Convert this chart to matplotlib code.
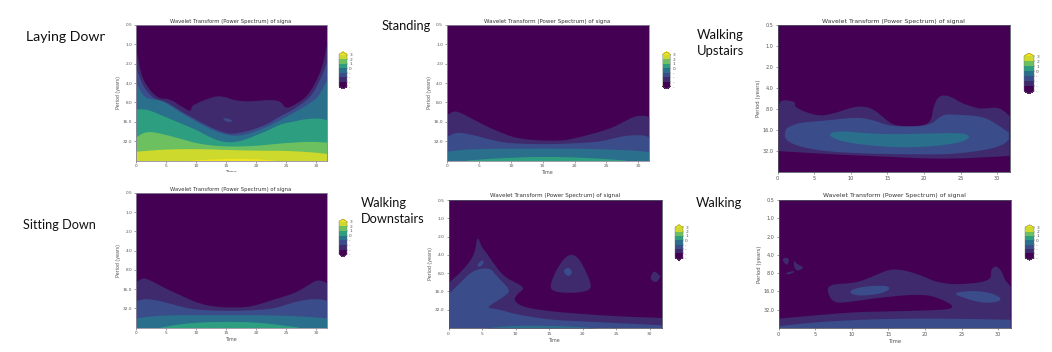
import numpy as np
import matplotlib
matplotlib.use("Agg")
import matplotlib.pyplot as plt
from matplotlib.colors import ListedColormap, BoundaryNorm
from matplotlib.cm import ScalarMappable
from matplotlib.transforms import Bbox

TITLE = "Wavelet Transform (Power Spectrum) of signal"
PERIOD_TICKS = [0.5, 1, 2, 4, 8, 16, 32]
TIME_TICKS = [0, 5, 10, 15, 20, 25, 30]
BAR_LEVELS = [-4, -3, -2, -1, 0, 1, 2, 3]
BAR_LABELS = ["-", "-", "-", "-", "0", "1", "2", "3"]
BAND_COLORS = ["#440154", "#3f2a6e", "#3a4c8a", "#2a6f8b", "#2e9e80", "#6cc060", "#cdd92c", "#f2e41f"]

# Each region: (level, times, log2 period of its upper edge); it fills down to the axis bottom.
LAYING_T1 = [0, .5, 1, 2, 3, 4, 5, 6, 7, 8, 9, 9.2, 10, 12, 13.5, 15, 16, 18, 20, 22, 24, 24.7, 26, 28, 29, 30, 31, 31.7]
LAYING_K1 = [.26, 1.12, 1.72, 2.24, 2.59, 2.79, 2.78, 2.88, 3.09, 3.28, 3.45, 3.16, 3.02, 2.76, 2.64, 2.71, 2.84, 2.93, 2.9, 2.84, 2.9, 3.29, 3.16, 2.76, 2.36, 1.81, 1.03, -.09]
LAYING_T2 = [0, 1, 2, 3, 4, 5, 7, 9, 11, 13, 15, 16, 18, 20, 22, 24, 26, 28, 29, 30, 31, 31.7]
LAYING_K2 = [1.21, 2.07, 2.5, 2.79, 2.88, 2.95, 3.36, 3.71, 4.05, 4.36, 4.57, 4.6, 4.5, 4.31, 4.05, 3.67, 3.36, 2.93, 2.64, 2.16, 1.47, .86]
LAYING_T3 = [0, 1, 2, 4, 6, 8, 10, 12, 14, 16, 18, 20, 22, 24, 26, 28, 30, 31, 31.7]
LAYING_K3 = [1.98, 2.59, 2.81, 2.84, 3.22, 3.62, 3.97, 4.31, 4.57, 4.71, 4.66, 4.45, 4.19, 3.88, 3.53, 3.19, 2.76, 2.24, 1.81]
LAYING_T4 = [0, 1, 2, 4, 6, 8, 10, 12, 14, 16, 18, 20, 22, 24, 26, 28, 30, 31.7]
LAYING_K4 = [3.33, 3.33, 3.36, 3.62, 3.88, 4.14, 4.4, 4.74, 5.0, 5.05, 4.91, 4.66, 4.4, 4.09, 3.97, 3.84, 3.79, 3.88]
LAYING_T5 = [0, 1, 2, 3, 5, 8, 10, 13, 16, 20, 23, 26, 29, 31.7]
LAYING_K5 = [4.78, 4.57, 4.5, 4.52, 4.66, 4.91, 5.09, 5.22, 5.26, 5.22, 5.12, 5.05, 5.0, 5.05]
LAYING_T6 = [0, 2, 5, 10, 15, 20, 25, 30, 31.7]
LAYING_K6 = [5.52, 5.47, 5.4, 5.38, 5.43, 5.47, 5.47, 5.57, 5.64]
LAYING_T7 = [9, 12, 16, 20, 23]
LAYING_K7 = [5.98, 5.93, 5.88, 5.91, 5.98]
LAYING_ISLE_T = [14.3, 15.2, 16.2, 15.2]
LAYING_ISLE_K = [3.85, 3.8, 3.97, 4.02]

STAND_T1 = [0, 1, 2, 4, 6, 8, 10, 12, 15, 18, 20, 22, 24, 26, 28, 29.5, 31, 31.7]
STAND_K1 = [3.62, 3.41, 3.5, 3.84, 4.19, 4.48, 4.74, 4.88, 4.95, 4.95, 4.83, 4.66, 4.48, 4.26, 3.91, 3.67, 3.66, 3.74]
STAND_T2 = [0, 1, 2, 4, 6, 8, 10, 15, 20, 24, 26, 28, 30, 31, 31.7]
STAND_K2 = [4.74, 4.57, 4.53, 4.66, 4.83, 5.0, 5.09, 5.14, 5.09, 5.0, 4.83, 4.69, 4.66, 4.69, 4.78]
STAND_T3 = [0, 2, 5, 10, 15, 20, 25, 30, 31.7]
STAND_K3 = [5.52, 5.43, 5.38, 5.36, 5.36, 5.36, 5.4, 5.47, 5.55]
STAND_T4 = [3, 6, 10, 15, 20, 25, 28]
STAND_K4 = [5.98, 5.9, 5.83, 5.78, 5.81, 5.9, 5.98]

SIT_T1 = [0, 1, 1.5, 3, 5, 7, 9, 11, 13, 15, 18, 20, 22, 25, 27, 29, 30, 31, 31.7]
SIT_K1 = [3.59, 3.42, 3.42, 3.63, 3.97, 4.25, 4.55, 4.77, 4.89, 4.93, 4.93, 4.81, 4.6, 4.32, 4.08, 3.68, 3.51, 3.56, 3.68]
SIT_T2 = [0, 1, 2, 4, 6, 8, 10, 15, 20, 23, 25, 27, 29, 31, 31.7]
SIT_K2 = [4.6, 4.51, 4.49, 4.6, 4.77, 4.94, 5.05, 5.12, 5.07, 4.98, 4.77, 4.6, 4.49, 4.51, 4.6]
SIT_T3 = [0, 2, 5, 10, 15, 20, 25, 30, 31.7]
SIT_K3 = [5.5, 5.41, 5.34, 5.33, 5.33, 5.33, 5.36, 5.45, 5.5]
SIT_T4 = [4, 7, 10, 15, 20, 24, 27]
SIT_K4 = [5.98, 5.81, 5.72, 5.67, 5.71, 5.85, 5.98]

UP_T1 = [0, .3, 1, 2, 2.5, 2.3, 4, 6, 8, 10, 11.5, 13, 14, 15, 16, 18, 20, 21, 21.3, 22, 23, 24, 25, 27, 28, 30, 31, 31.7, 31.7, 30, 25, 20, 15, 10, 5, 0]
UP_K1 = [3.1, 2.62, 2.58, 2.62, 2.73, 2.89, 3.18, 3.34, 3.18, 2.94, 2.86, 2.99, 3.26, 3.57, 3.78, 3.83, 3.78, 3.57, 2.86, 2.39, 2.34, 2.47, 2.7, 2.94, 2.99, 2.91, 3.1, 3.34, 5.23, 5.27, 5.36, 5.36, 5.27, 5.2, 5.11, 5.0]
UP_T2 = [1, 1.2, 3, 6, 11, 13.5, 15, 17, 20.8, 22.5, 24, 28, 30, 31.6, 31.6, 31, 29, 24, 17.6, 11, 6, 2.6, 1]
UP_K2 = [4.13, 3.89, 3.65, 3.57, 3.38, 3.57, 3.78, 3.84, 3.81, 3.26, 3.26, 3.34, 3.73, 4.13, 4.44, 4.68, 4.92, 5.16, 5.16, 5.11, 5.0, 4.76, 4.44]
UP_T3 = [7.15, 9, 11, 15.3, 20, 25.3, 26.4, 25.3, 22, 17.6, 13, 9, 7.15]
UP_K3 = [4.13, 4.05, 4.13, 4.21, 4.17, 4.13, 4.32, 4.57, 4.76, 4.84, 4.76, 4.57, 4.32]

DOWN_T1 = [0, 2.2, 3.9, 4.3, 4.9, 5.7, 6.7, 8.2, 10.2, 11.4, 10.2, 9.7, 11.2, 15.1, 20.1, 25.1, 31.8, 31.8, 0]
DOWN_K1 = [3.55, 2.82, 2.0, .91, 1.55, 1.91, 2.45, 3.18, 3.55, 3.82, 4.15, 4.51, 4.87, 5.09, 5.24, 5.36, 5.45, 6, 6]
DOWN_T2 = [0, 1.7, 3.7, 6.2, 7.2, 9.2, 8.7, 6.7, 5.7, 7.2, 10.2, 15.1, 20.1, 25.1, 31.8, 31.8, 0]
DOWN_K2 = [4.15, 3.55, 2.82, 2.69, 3.18, 3.91, 4.18, 4.64, 4.91, 4.95, 5.27, 5.55, 5.64, 5.73, 5.85, 6, 6]
DOWN_T3 = [5.2, 9.2, 15.1, 20.1, 22.1]
DOWN_K3 = [6, 5.85, 5.85, 5.93, 6]
DOWN_ISLE_T = [4.2, 4.9, 5.4, 4.7]
DOWN_ISLE_K = [2.58, 2.27, 2.4, 2.69]
DOWN_BLOB_T = [15.1, 15.9, 17.6, 19.1, 20.4, 21.5, 20.1, 17.6, 15.6]
DOWN_BLOB_K = [3.73, 2.91, 2.0, 2.0, 2.82, 3.82, 4.04, 4.09, 4.0]
DOWN_CORE_T = [17.1, 17.9, 18.5, 18.1, 17.4]
DOWN_CORE_K = [2.82, 2.67, 2.91, 3.18, 3.09]
DOWN_RIGHT_T = [30.2, 30.7, 31.6, 31, 30.1]
DOWN_RIGHT_K = [3.09, 2.85, 3.18, 3.55, 3.36]

WALK_T1 = [0, 6.1, 10.6, 15.2, 19.7, 24.7, 21.5, 18.8, 13.4, 9.7, 7.5, 6.6, 7, 10.6, 13.4, 15.2, 17, 19.3, 21.5, 24.3, 29, 29, 29.6, 30.4, 30.9, 31.7, 31.7, 0]
WALK_K1 = [5.49, 5.27, 5.13, 5.09, 5.05, 4.95, 4.27, 4.15, 4.36, 4.58, 4.64, 4.0, 3.6, 3.55, 3.09, 2.78, 2.82, 3.09, 3.49, 3.64, 3.45, 2.82, 2.58, 2.82, 3.36, 3.73, 6, 6]
WALK_T2 = [0, 3.8, 8.4, 15.2, 24.3, 31.7, 31.7, 0]
WALK_K2 = [5.91, 5.73, 5.6, 5.49, 5.49, 5.55, 6, 6]
WALK_A_T = [9.6, 11.5, 14.3, 15.3, 14.7, 12.5, 10.2]
WALK_A_K = [3.96, 3.73, 3.67, 3.78, 4.04, 4.22, 4.22]
WALK_B_T = [23.7, 26.1, 28.8, 30.5, 30, 27.9, 25.6]
WALK_B_K = [4.09, 3.96, 4.04, 4.36, 4.58, 4.64, 4.4]
WALK_C_T = [.4, 1.5, 1.3, .9]
WALK_C_K = [2.18, 2.15, 2.55, 2.51]
WALK_D_T = [2.1, 2.5, 3.6, 2.5, 2.1]
WALK_D_K = [2.27, 2.51, 2.69, 2.91, 2.64]
WALK_E_T = [.9, 2, 2.2, 1.3]
WALK_E_K = [3, 2.87, 2.95, 3.09]


def under(t, k, level):
    return ("under", t, k, level)


def poly(t, k, level):
    return ("poly", t, k, level)


def round_open(t, k, rounds=3):
    """Corner cutting along an open edge; the two ends stay where they were read."""
    p = np.column_stack([t, k]).astype(float)
    for _ in range(rounds):
        q = 0.75 * p[:-1] + 0.25 * p[1:]
        r = 0.25 * p[:-1] + 0.75 * p[1:]
        mid = np.empty((2 * len(q), 2))
        mid[0::2], mid[1::2] = q, r
        p = np.vstack([p[:1], mid, p[-1:]])
    return p[:, 0], p[:, 1]


def round_closed(t, k, rounds=3):
    """Corner cutting round a closed outline; vertices on an axis edge stay sharp."""
    t, k = np.asarray(t, float), np.asarray(k, float)
    keep = (t <= 0) | (t >= 31.6) | (k >= 6)
    p = np.repeat(np.column_stack([t, k]), np.where(keep, 2, 1), axis=0)
    for _ in range(rounds):
        nxt = np.roll(p, -1, axis=0)
        q = 0.75 * p + 0.25 * nxt
        r = 0.25 * p + 0.75 * nxt
        new = np.empty((2 * len(p), 2))
        new[0::2], new[1::2] = q, r
        p = new
    return p[:, 0], p[:, 1]


PANELS = [
    dict(rect=(136, 25, 327, 160.5), tick=3.1, label=3.45, title=3.8, cut=True, xlabel=True, clip_bottom=172,
         bar=(339, 49, 347, 92), regions=[under(LAYING_T1, LAYING_K1, 1), under(LAYING_T2, LAYING_K2, 2),
                  under(LAYING_T3, LAYING_K3, 3), under(LAYING_T4, LAYING_K4, 4), under(LAYING_T5, LAYING_K5, 5),
                  under(LAYING_T6, LAYING_K6, 6), under(LAYING_T7, LAYING_K7, 7),
                  poly(LAYING_ISLE_T, LAYING_ISLE_K, 2)]),
    dict(rect=(447, 25, 649.5, 160.5), tick=3.2, label=3.45, title=3.95, cut=True, xlabel=True, clip_bottom=352,
         bar=(662.5, 49, 670.5, 92), regions=[under(STAND_T1, STAND_K1, 1), under(STAND_T2, STAND_K2, 2),
                  under(STAND_T3, STAND_K3, 3), under(STAND_T4, STAND_K4, 4)]),
    dict(rect=(777.5, 25, 1010, 172), tick=3.5, label=3.9, title=4.46, cut=False, xlabel=False, clip_bottom=180,
         bar=(1024, 50, 1034, 97), regions=[poly(UP_T1, UP_K1, 1), poly(UP_T2, UP_K2, 2), poly(UP_T3, UP_K3, 3)]),
    dict(rect=(136, 193, 327, 327.5), tick=3.1, label=3.45, title=3.8, cut=True, xlabel=True, clip_bottom=352,
         bar=(339, 216, 347, 260), regions=[under(SIT_T1, SIT_K1, 1), under(SIT_T2, SIT_K2, 2),
                  under(SIT_T3, SIT_K3, 3), under(SIT_T4, SIT_K4, 4)]),
    dict(rect=(448.5, 200, 661.5, 328), tick=3.2, label=3.45, title=4.06, cut=False, xlabel=True, clip_bottom=352,
         bar=(675, 222, 683, 263), regions=[poly(DOWN_T1, DOWN_K1, 1), poly(DOWN_T2, DOWN_K2, 2),
                  under(DOWN_T3, DOWN_K3, 3), poly(DOWN_ISLE_T, DOWN_ISLE_K, 2), poly(DOWN_BLOB_T, DOWN_BLOB_K, 1),
                  poly(DOWN_CORE_T, DOWN_CORE_K, 2), poly(DOWN_RIGHT_T, DOWN_RIGHT_K, 1)]),
    dict(rect=(778.5, 200, 1011, 328), tick=3.5, label=3.9, title=4.46, cut=False, xlabel=True, clip_bottom=352,
         bar=(1025, 222, 1034, 263), regions=[poly(WALK_T1, WALK_K1, 1), poly(WALK_T2, WALK_K2, 2),
                  poly(WALK_A_T, WALK_A_K, 2), poly(WALK_B_T, WALK_B_K, 2), poly(WALK_C_T, WALK_C_K, 1),
                  poly(WALK_D_T, WALK_D_K, 1), poly(WALK_E_T, WALK_E_K, 1)]),
]

ACTIVITY_LABELS = [
    ("Laying Down", 26, 37, 105, 10.2),
    ("Standing", 382, 26, 440, 9.3),
    ("Walking\nUpstairs", 697, 43, 760, 9.4),
    ("Sitting Down", 23, 225, 110, 9.1),
    ("Walking\nDownstairs", 361, 211, 430, 9.2),
    ("Walking", 696, 203, 760, 9.3),
]

W, H = 1052, 352
fig = plt.figure(figsize=(W / 100, H / 100), dpi=100, facecolor="white")
GRAY = "#555555"


def axes_at(x0, y0, x1, y1):
    return fig.add_axes([x0 / W, 1 - y1 / H, (x1 - x0) / W, (y1 - y0) / H])


def clipbox(x0, y0, x1, y1):
    return Bbox([[x0, H - y1], [x1, H - y0]])


for p in PANELS:
    x0, y0, x1, y1 = p["rect"]
    ax = axes_at(x0, y0, x1, y1)
    ax.set_facecolor(BAND_COLORS[0])
    ax.set_xlim(0, 31.75)
    ax.set_yscale("log", base=2)
    ax.set_ylim(2.0 ** 6, 0.5)
    ax.set_yticks(PERIOD_TICKS)
    ax.set_yticklabels([f"{v:.1f}" for v in PERIOD_TICKS])
    ax.minorticks_off()
    ax.set_xticks(TIME_TICKS)
    ax.tick_params(labelsize=p["tick"], length=1.6, width=0.4, color=GRAY, labelcolor=GRAY, pad=1.2)
    for sp in ax.spines.values():
        sp.set_linewidth(0.6)
        sp.set_color("#8f8a9c" if p["cut"] else "#555566")
    ax.set_ylabel("Period (years)", fontsize=p["label"], color=GRAY, labelpad=1.2)
    bottom_box = clipbox(0, 0, W, p["clip_bottom"])
    if p["xlabel"]:
        lab = ax.set_xlabel("Time", fontsize=p["label"], color=GRAY, labelpad=1.2)
        lab.set_clip_box(bottom_box)
        lab.set_clip_on(True)
    for lab in ax.get_xticklabels():
        lab.set_clip_box(bottom_box)
        lab.set_clip_on(True)
    for kind, t, k, level in p["regions"]:
        if kind == "under":
            rt, rk = round_open(t, k)
            ax.fill_between(rt, 2.0 ** rk, 2.0 ** 6, color=BAND_COLORS[level], lw=0)
        else:
            rt, rk = round_closed(t, k)
            ax.fill(rt, 2.0 ** rk, color=BAND_COLORS[level], lw=0)
    title = ax.set_title(TITLE, fontsize=p["title"], color="#333333", pad=1.8)
    if p["cut"]:
        title.set_clip_box(clipbox(0, 0, (x0 + x1) / 2 + p["title"] * 15.6, H))
        title.set_clip_on(True)

    bx0, by0, bx1, by1 = p["bar"]
    ext = 0.08
    span = by1 - by0
    cax = axes_at(bx0, by0 + span * ext / (1 + 2 * ext), bx1, by1 - span * ext / (1 + 2 * ext))
    cmap = ListedColormap(BAND_COLORS[:7])
    cmap.set_under(BAND_COLORS[0])
    cmap.set_over(BAND_COLORS[7])
    sm = ScalarMappable(norm=BoundaryNorm(BAR_LEVELS, cmap.N), cmap=cmap)
    cb = fig.colorbar(sm, cax=cax, extend="both", ticks=BAR_LEVELS, extendfrac=ext)
    cb.ax.set_yticklabels(BAR_LABELS)
    cb.ax.tick_params(labelsize=3.2, length=1.0, width=0.3, pad=0.6, color=GRAY, labelcolor=GRAY)
    cb.outline.set_linewidth(0.3)
    cb.outline.set_edgecolor("#777777")

for text, x, y, right, size in ACTIVITY_LABELS:
    t = fig.text(x / W, 1 - y / H, text, fontsize=size, family="Lato", color="#111111",
                 va="center", ha="left", linespacing=1.4)
    t.set_clip_box(clipbox(0, 0, right, H))
    t.set_clip_on(True)

fig.savefig("out.png", dpi=100)
